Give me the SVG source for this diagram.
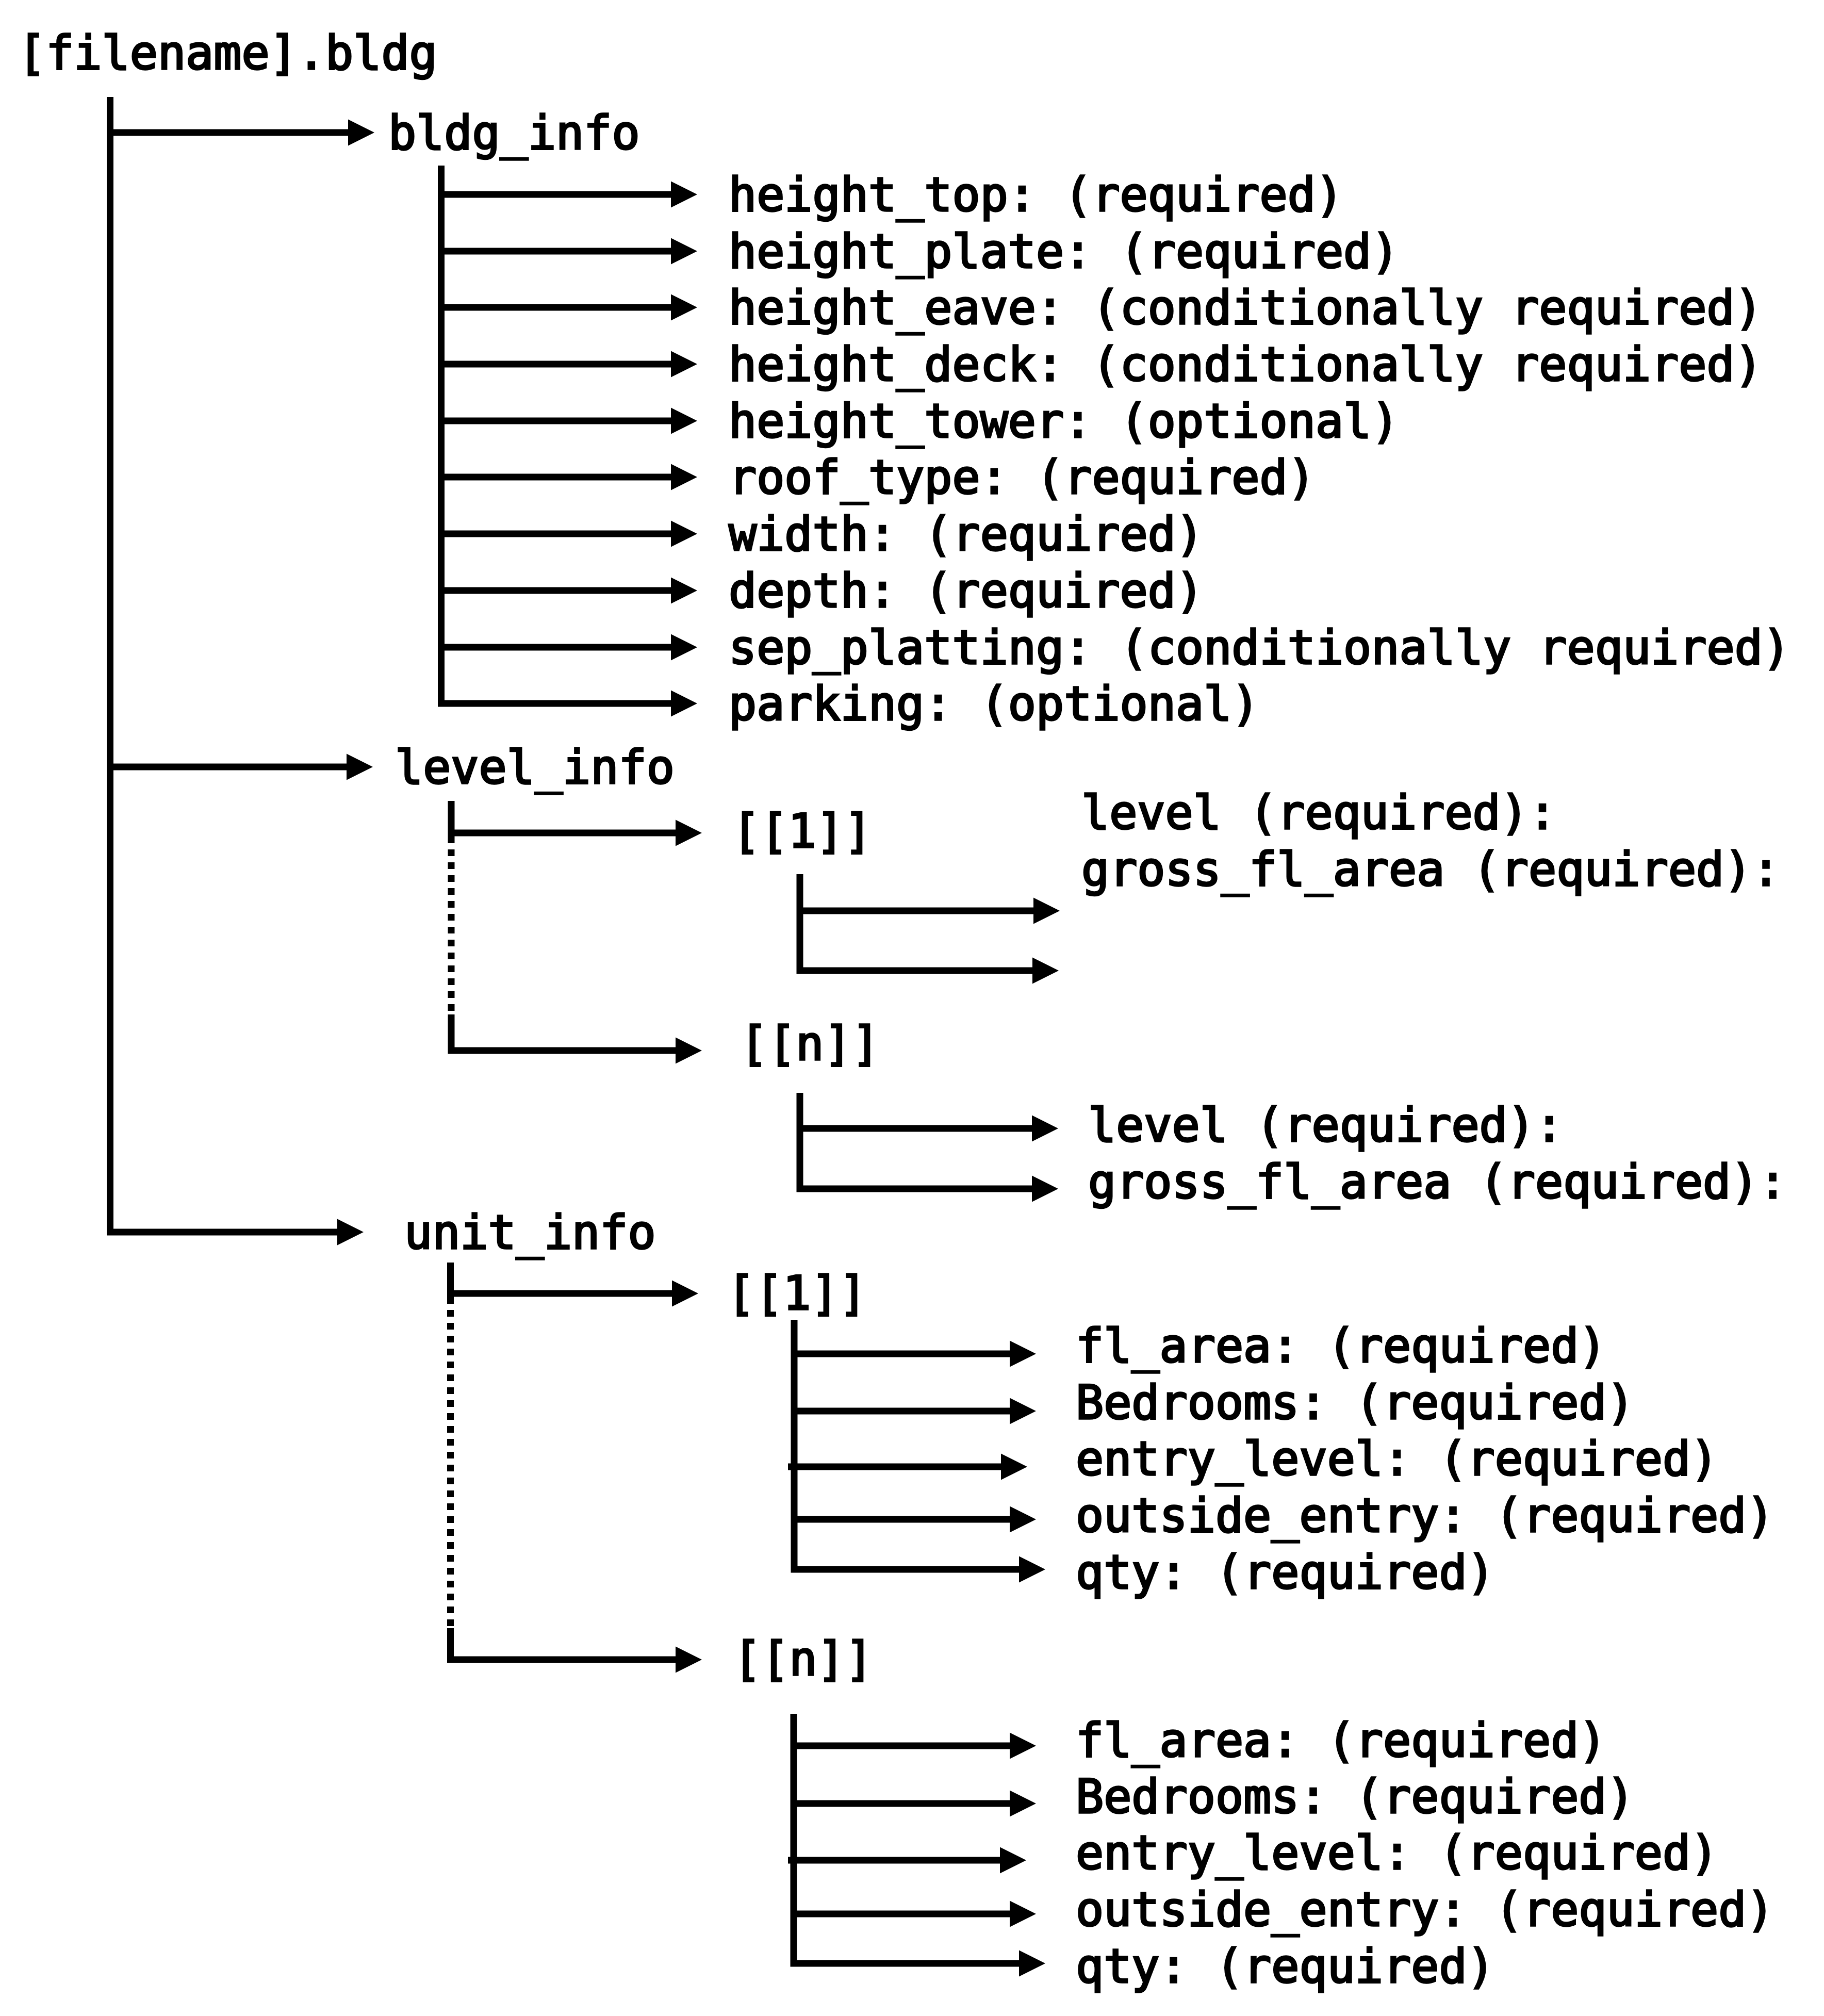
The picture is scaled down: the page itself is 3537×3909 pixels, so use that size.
<svg xmlns="http://www.w3.org/2000/svg" width="3537" height="3909" viewBox="0 0 3537 3909">
<style>
text{font-family:"DejaVu Sans Mono","Liberation Mono",monospace;font-size:90px;fill:#000;stroke:#000;stroke-width:3.5px}
.c{fill:none;stroke:#000;stroke-width:13;stroke-linejoin:miter}
.a{marker-end:url(#ah)}
.d{stroke-dasharray:13 12}
</style>
<defs>
<marker id="ah" markerUnits="userSpaceOnUse" markerWidth="52" markerHeight="52" refX="0" refY="25.5" orient="auto" overflow="visible"><path d="M0,0 L51,25.5 L0,51 z" fill="#000"/></marker>
</defs>
<rect width="3537" height="3909" fill="#fff"/>
<g id="connectors">
<path class="c a" d="M213.5,188 V2389 H654"/>
<path class="c a" d="M213.5,257 H675"/>
<path class="c a" d="M213.5,1487 H672"/>
<path class="c a" d="M855.5,321 V1364 H1301"/>
<path class="c a" d="M855.5,377 H1301"/>
<path class="c a" d="M855.5,487 H1301"/>
<path class="c a" d="M855.5,596 H1301"/>
<path class="c a" d="M855.5,706 H1301"/>
<path class="c a" d="M855.5,816 H1301"/>
<path class="c a" d="M855.5,925 H1301"/>
<path class="c a" d="M855.5,1035 H1301"/>
<path class="c a" d="M855.5,1145 H1301"/>
<path class="c a" d="M855.5,1255 H1301"/>
<path class="c" d="M875,1553 V1622"/>
<path class="c d" d="M875,1622 V1967"/>
<path class="c a" d="M875,1967 V2037 H1310"/>
<path class="c a" d="M875,1615 H1310"/>
<path class="c" d="M873.5,2448 V2515"/>
<path class="c d" d="M873.5,2515 V3157"/>
<path class="c a" d="M873.5,3157 V3218 H1310"/>
<path class="c a" d="M873.5,2508 H1303"/>
<path class="c a" d="M1551,1695 V1882 H2002"/>
<path class="c a" d="M1551,1766 H2004"/>
<path class="c a" d="M1551,2119 V2305 H2001"/>
<path class="c a" d="M1551,2188 H2001"/>
<path class="c a" d="M1540,2559 V3043 H1976"/>
<path class="c a" d="M1540,2625 H1958"/>
<path class="c a" d="M1540,2736 H1958"/>
<path class="c a" d="M1528,2844 H1941"/>
<path class="c a" d="M1540,2946 H1958"/>
<path class="c a" d="M1539,3323 V3807 H1976"/>
<path class="c a" d="M1539,3385 H1958"/>
<path class="c a" d="M1539,3497 H1958"/>
<path class="c a" d="M1528,3607 H1939"/>
<path class="c a" d="M1539,3711 H1958"/>
</g>
<g id="root"><text x="35" y="134">[filename].bldg</text></g>
<g id="bldg_info"><text x="753" y="289">bldg_info</text></g>
<g id="bldg_fields">
<text x="1413" y="409">height_top: (required)</text>
<text x="1413" y="519">height_plate: (required)</text>
<text x="1413" y="628">height_eave: (conditionally required)</text>
<text x="1413" y="738">height_deck: (conditionally required)</text>
<text x="1413" y="848">height_tower: (optional)</text>
<text x="1413" y="957">roof_type: (required)</text>
<text x="1413" y="1067">width: (required)</text>
<text x="1413" y="1177">depth: (required)</text>
<text x="1413" y="1287">sep_platting: (conditionally required)</text>
<text x="1413" y="1396">parking: (optional)</text>
</g>
<g id="level_info"><text x="766" y="1519">level_info</text></g>
<g id="level_1"><text x="1420" y="1643">[[1]]</text></g>
<g id="level_1_fields">
<text x="2097" y="1607">level (required):</text>
<text x="2097" y="1717">gross_fl_area (required):</text>
</g>
<g id="level_n"><text x="1435" y="2055">[[n]]</text></g>
<g id="level_n_fields">
<text x="2110" y="2213">level (required):</text>
<text x="2110" y="2323">gross_fl_area (required):</text>
</g>
<g id="unit_info"><text x="784" y="2421">unit_info</text></g>
<g id="unit_1"><text x="1410" y="2539">[[1]]</text></g>
<g id="unit_1_fields">
<text x="2086" y="2641">fl_area: (required)</text>
<text x="2086" y="2751">Bedrooms: (required)</text>
<text x="2086" y="2860">entry_level: (required)</text>
<text x="2086" y="2970">outside_entry: (required)</text>
<text x="2086" y="3080">qty: (required)</text>
</g>
<g id="unit_n"><text x="1422" y="3248">[[n]]</text></g>
<g id="unit_n_fields">
<text x="2086" y="3406">fl_area: (required)</text>
<text x="2086" y="3515">Bedrooms: (required)</text>
<text x="2086" y="3624">entry_level: (required)</text>
<text x="2086" y="3734">outside_entry: (required)</text>
<text x="2086" y="3844">qty: (required)</text>
</g>
</svg>
